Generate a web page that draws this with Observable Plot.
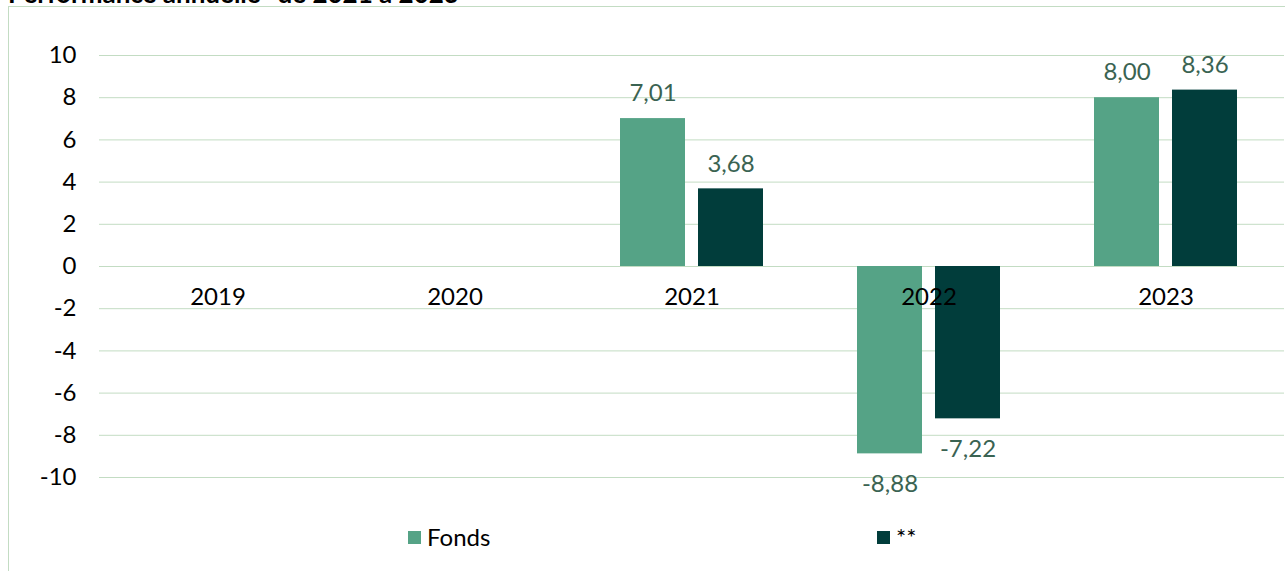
<!DOCTYPE html>
<html>
<head>
<meta charset="utf-8">
<script src="https://cdn.jsdelivr.net/npm/d3@7"></script>
<script src="https://cdn.jsdelivr.net/npm/@observablehq/plot@0.6"></script>
<style>
  html, body { margin: 0; padding: 0; background: #fff; overflow: hidden; }
  #wrap { position: relative; width: 1285px; height: 571px; overflow: hidden; font-family: Lato, sans-serif; }
  #title { position: absolute; left: 8px; top: -20px; font: bold 26px/26px Lato, sans-serif; color: #000; white-space: nowrap; }
  #frame { position: absolute; left: 8px; top: 6px; width: 1400px; height: 700px; border-left: 1px solid #c3dcc3; border-top: 1px solid #c3dcc3; }
  #chart { position: absolute; left: 0; top: 0; }
  .leg { position: absolute; top: 522px; font: 24px/30px Lato, sans-serif; color: #000; display: flex; align-items: center; }
  .leg span.sw { display: inline-block; width: 13px; height: 13px; margin-right: 6px; }
</style>
</head>
<body>
<div id="wrap">
  <div id="title">Performance annuelle* de 2021 à 2023</div>
  <div id="frame"></div>
  <div id="chart"></div>
  <div class="leg" id="leg0" style="left:408px"></div>
  <div class="leg" id="leg1" style="left:877px"></div>
</div>
<script>
const years = ["2019", "2020", "2021", "2022", "2023"];
const seriesNames = ["Fonds", "**"];
const fondsValues = [null, null, 7.01, -8.88, 8.00];
const indexValues = [null, null, 3.68, -7.22, 8.36];
const yTicks = [-10, -8, -6, -4, -2, 0, 2, 4, 6, 8, 10];
const colors = ["#55a386", "#013d3b"];

const rows = [];
years.forEach((yr, i) => {
  [fondsValues, indexValues].forEach((arr, s) => {
    if (arr[i] != null) rows.push({year: yr, series: seriesNames[s], value: arr[i]});
  });
});
const fmt = v => v.toFixed(2).replace(".", ",");

const chart = Plot.plot({
  width: 1285,
  height: 571,
  marginLeft: 98,
  marginRight: 0,
  marginTop: 55,
  marginBottom: 94,
  style: {fontFamily: "Lato, sans-serif", fontSize: "24px", color: "#000", background: "transparent"},
  fx: {domain: years, padding: 0, axis: null, label: null},
  x: {domain: seriesNames, paddingInner: 0.1667, paddingOuter: 0.59, axis: null},
  y: {domain: [-10, 10], ticks: yTicks, tickSize: 0, tickPadding: 23, label: null, tickFormat: d => String(d)},
  color: {domain: seriesNames, range: colors},
  marks: [
    Plot.ruleY(yTicks, {stroke: "#c3dcc3", strokeWidth: 1}),
    Plot.barY(rows, {fx: "year", x: "series", y: "value", fill: "series"}),
    Plot.text(rows.filter(d => d.value >= 0), {fx: "year", x: "series", y: "value", text: d => fmt(d.value), dy: -25, fill: "#3a6352", fontSize: 24}),
    Plot.text(rows.filter(d => d.value < 0), {fx: "year", x: "series", y: "value", text: d => fmt(d.value), dy: 30, fill: "#3a6352", fontSize: 24}),
    Plot.text(years, {fx: d => d, y: 0, text: d => d, dy: 31, fill: "#000", fontSize: 24})
  ]
});
document.getElementById("chart").appendChild(chart);

seriesNames.forEach((name, i) => {
  const el = document.getElementById("leg" + i);
  el.innerHTML = `<span class="sw" style="background:${colors[i]}"></span>${name}`;
});
</script>
</body>
</html>
